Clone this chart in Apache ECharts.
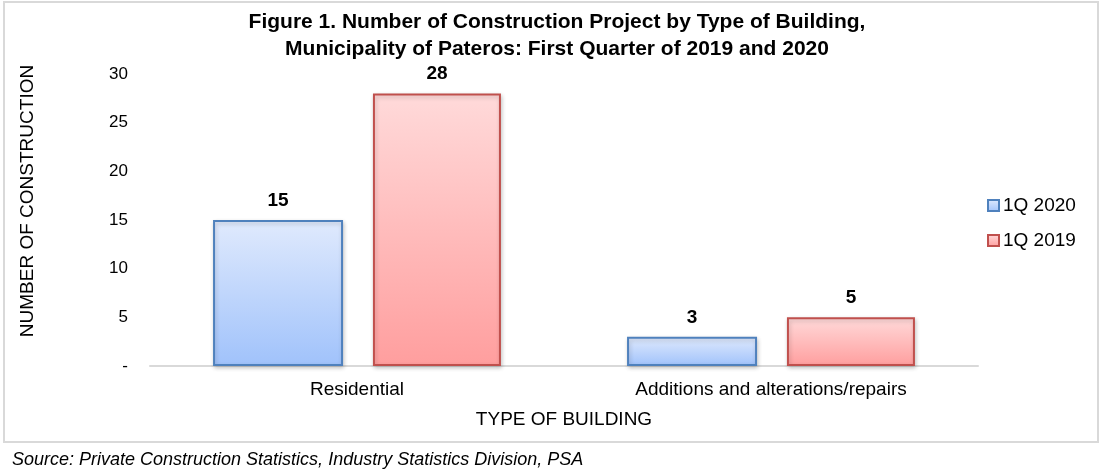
<!DOCTYPE html>
<html><head><meta charset="utf-8">
<script src="https://cdn.jsdelivr.net/npm/echarts@6/dist/echarts.min.js"></script>
<style>html,body{margin:0;padding:0;background:#fff}#c{width:1103px;height:475px}</style>
</head><body><div id="c"></div>
<script>
const categories = ["Residential", "Additions and alterations/repairs"];
const series2020 = [15, 3];
const series2019 = [28, 5];
const yTicks = [0, 5, 10, 15, 20, 25, 30];

const chart = echarts.init(document.getElementById('c'), null, {renderer: 'canvas'});
const font = '"Liberation Sans", Arial, sans-serif';
function grad(top, bottom) {
  return new echarts.graphic.LinearGradient(0, 0, 0, 1, [{offset: 0, color: top}, {offset: 1, color: bottom}]);
}
chart.setOption({
  backgroundColor: '#fff',
  animation: false,
  textStyle: {fontFamily: font},
  title: {
    text: 'Figure 1. Number of Construction Project by Type of Building,\nMunicipality of Pateros: First Quarter of 2019 and 2020',
    left: 552, top: 4, textAlign: 'center',
    textStyle: {fontSize: 21, fontWeight: 'bold', color: '#000', lineHeight: 27, fontFamily: font}
  },
  legend: {
    orient: 'vertical', left: 982, top: 191, itemWidth: 11, itemHeight: 11, itemGap: 16, icon: 'rect',
    textStyle: {fontSize: 19, color: '#000', fontFamily: font, padding: [0, 0, 0, -1]},
    data: ['1Q 2020', '1Q 2019']
  },
  grid: {left: 150, right: 125, top: 74, bottom: 109, containLabel: false},
  xAxis: {
    type: 'category', data: categories,
    axisLine: {lineStyle: {color: '#d9d9d9', width: 2}},
    axisTick: {show: false},
    axisLabel: {fontSize: 19, color: '#000', margin: 14, fontFamily: font},
    name: 'TYPE OF BUILDING', nameLocation: 'middle', nameGap: 44,
    nameTextStyle: {fontSize: 19, color: '#000', fontFamily: font}
  },
  yAxis: {
    type: 'value', min: 0, max: 30, interval: 5,
    splitLine: {show: false}, axisLine: {show: false}, axisTick: {show: false},
    axisLabel: {fontSize: 17, color: '#000', margin: 22, fontFamily: font,
      formatter: v => (yTicks.indexOf(v) >= 0 ? (v === 0 ? '-' : String(v)) : '')}
  },
  series: [
    {
      name: '1Q 2020', type: 'bar', data: series2020, barWidth: 130, barGap: '23%',
      itemStyle: {color: grad('#e0eafd', '#a0c2fb'), borderColor: '#4f81bd', borderWidth: 2,
        shadowColor: 'rgba(0,0,0,0.2)', shadowBlur: 4, shadowOffsetX: 1, shadowOffsetY: 2},
      label: {show: true, position: 'top', distance: 10, fontSize: 19, fontWeight: 'bold', color: '#000', fontFamily: font}
    },
    {
      name: '1Q 2019', type: 'bar', data: series2019, barWidth: 128,
      itemStyle: {color: grad('#ffdada', '#ff9e9e'), borderColor: '#c0504d', borderWidth: 2,
        shadowColor: 'rgba(0,0,0,0.2)', shadowBlur: 4, shadowOffsetX: 1, shadowOffsetY: 2},
      label: {show: true, position: 'top', distance: 10, fontSize: 19, fontWeight: 'bold', color: '#000', fontFamily: font}
    }
  ],
  graphic: [
    {type: 'rect', shape: {x: 4, y: 2, width: 1094, height: 440}, style: {fill: 'none', stroke: '#d9d9d9', lineWidth: 2}, z: -1},
    {type: 'text', x: 28, y: 201, rotation: Math.PI / 2,
      style: {text: 'NUMBER OF CONSTRUCTION', fill: '#000', font: '19px "Liberation Sans", Arial, sans-serif', textAlign: 'center', textVerticalAlign: 'middle'}},
    {type: 'text', x: 12, y: 460,
      style: {text: 'Source: Private Construction Statistics, Industry Statistics Division, PSA', fill: '#000', font: 'italic 18px "Liberation Sans", Arial, sans-serif', textVerticalAlign: 'middle'}}
  ]
});
</script></body></html>
